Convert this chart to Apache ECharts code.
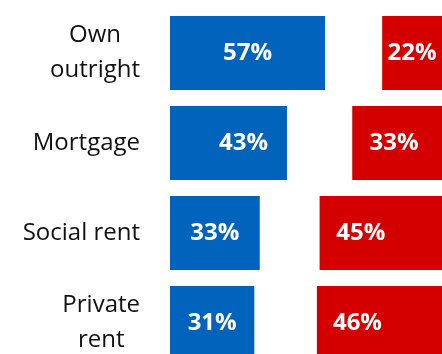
<!DOCTYPE html>
<html>
<head>
<meta charset="utf-8">
<script src="https://cdn.jsdelivr.net/npm/echarts@6/dist/echarts.min.js"></script>
<style>
  html, body { margin: 0; padding: 0; background: #fff; overflow: hidden; }
  #chart { width: 442px; height: 368px; }
</style>
</head>
<body>
<div id="chart"></div>
<script>
// Housing tenure shares, two groups drawn back to back
const categories = ['Own\noutright', 'Mortgage', 'Social rent', 'Private\nrent'];
const blueValues = [57, 43, 33, 31];
const redValues = [22, 33, 45, 46];

// horizontal nudges for individual value labels (px)
const blueLabelShift = [0, 15, 0, 0];
const redLabelShift = [0, -3, -20, -22];

const BLUE = '#0263bc';
const RED = '#d40000';
const FONT = '"Open Sans", sans-serif';

const chart = echarts.init(document.getElementById('chart'), null, { renderer: 'canvas' });

function labelled(values, shifts) {
  return values.map((v, i) => ({
    value: v,
    label: { offset: [shifts[i], 0] }
  }));
}

const valueLabel = {
  show: true,
  position: 'inside',
  color: '#fff',
  fontFamily: FONT,
  fontWeight: 'bold',
  fontSize: 24,
  formatter: p => p.value + '%'
};

chart.setOption({
  animation: false,
  grid: { left: 170, right: 0, top: 8, bottom: 0 },
  xAxis: [
    { type: 'value', min: 0, max: 100, show: false },
    { type: 'value', min: 0, max: 100, show: false, inverse: true }
  ],
  yAxis: {
    type: 'category',
    data: categories,
    inverse: true,
    axisLine: { show: false },
    axisTick: { show: false },
    splitLine: { show: false },
    axisLabel: {
      margin: 30,
      align: 'right',
      color: '#111',
      fontFamily: FONT,
      fontSize: 24,
      lineHeight: 35,
      formatter: v => v.split('\n').map(l => '{c|' + l + '}').join('\n'),
      rich: {
        c: { align: 'center', fontFamily: FONT, fontSize: 24, lineHeight: 35, color: '#111' }
      }
    }
  },
  series: [
    {
      type: 'bar',
      xAxisIndex: 0,
      data: labelled(blueValues, blueLabelShift),
      barWidth: 74,
      barGap: '-100%',
      itemStyle: { color: BLUE },
      label: valueLabel
    },
    {
      type: 'bar',
      xAxisIndex: 1,
      data: labelled(redValues, redLabelShift),
      barWidth: 74,
      barGap: '-100%',
      itemStyle: { color: RED },
      label: valueLabel
    }
  ]
});
</script>
</body>
</html>
